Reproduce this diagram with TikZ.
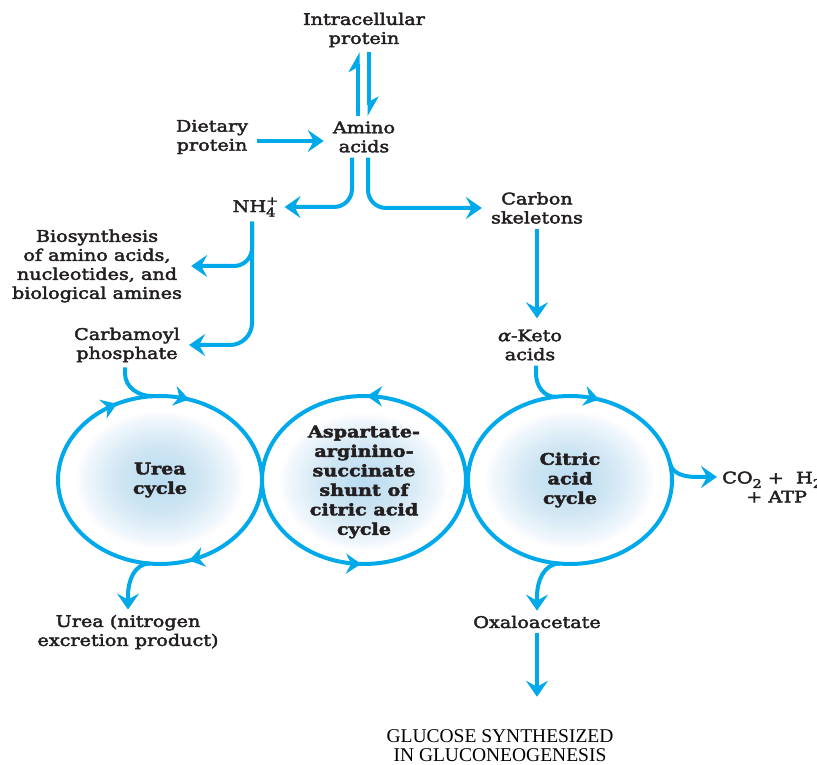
\documentclass[tikz,border=0pt]{standalone}
\usepackage{fontspec}
\setmainfont{DejaVu Serif}[FakeStretch=1.2, FakeBold=2.6]
\newfontfamily\timesfont{Liberation Serif}
\usetikzlibrary{arrows.meta,shapes.geometric,decorations.markings,backgrounds,calc}

\definecolor{flowblue}{RGB}{0,169,234}
\definecolor{glowblue}{RGB}{172,215,242}
\definecolor{inkdark}{RGB}{35,31,32}

% chemical sub- and superscripts
\newcommand{\chsub}[1]{\raisebox{-4.5pt}{\fontsize{12}{12}\selectfont #1}}
\newcommand{\chsup}[1]{\raisebox{7pt}{\fontsize{12}{12}\selectfont #1}}

\tikzset{
  lbl/.style={align=center, inner sep=5pt, text=inkdark,
    font=\fontsize{16}{19}\selectfont},
  cyclbl/.style={align=center, text=inkdark,
    font=\bfseries\fontsize{16}{19.5}\selectfont},
  bigtip/.tip={Stealth[length=16pt,width=22pt,inset=6pt]},
  cyctip/.tip={Stealth[length=15pt,width=20pt,inset=5pt]},
  flow/.style={draw=flowblue, line width=4pt, -bigtip},
  harp/.style={draw=flowblue, line width=4pt,
    -{Stealth[harpoon,length=17pt,width=19pt,inset=5pt]}},
  ring/.style={draw=flowblue, line width=4pt},
  cycnode/.style={ellipse, minimum width=204pt, minimum height=168pt,
    inner sep=0pt, outer sep=0pt},
}

\begin{document}
\begin{tikzpicture}[x=1pt,y=1pt]
\useasboundingbox (0,0) rectangle (817,765);

% text nodes
\node[lbl] (intra)  at (364,735) {Intracellular\\protein};
\node[lbl] (amino)  at (364,628) {Amino\\acids};
\node[lbl] (diet)   at (212,628) {Dietary\\protein};
\node[lbl] (nh4)    at (254,558) {NH\rlap{\chsup{+}}\chsub{4}};
\node[lbl] (carbon) at (537,557) {Carbon\\skeletons};
\node[lbl] (bio)    at (97,499)  {Biosynthesis\\of amino acids,\\nucleotides, and\\biological amines};
\node[lbl] (carb)   at (127,420) {Carbamoyl\\phosphate};
\node[lbl] (keto)   at (530,420) {{\itshape α}-Keto\\acids};
\node[lbl] (uprod)  at (128,133) {Urea (nitrogen\\excretion product)};
\node[lbl] (oxalo)  at (537,143) {Oxaloacetate};
\node[lbl, anchor=west, align=left] (co2) at (717,278)
  {CO\chsub{2} + \hspace{6pt}H\chsub{2}O\\\hspace{24pt}+ ATP};
\node[lbl, text=black, font=\timesfont\fontsize{19.5}{19}\selectfont]
  (gluc) at (500,19) {GLUCOSE SYNTHESIZED\\IN GLUCONEOGENESIS};

% the three cycles
\node[cycnode, cyclbl] (urea)   at (160,285) {Urea\\cycle};
\node[cycnode, cyclbl] (shunt)  at (364,283) {Aspartate-\\arginino-\\succinate\\shunt of\\citric acid\\cycle};
\node[cycnode, cyclbl] (citric) at (570,285) {Citric\\acid\\cycle};

% soft glow inside each cycle: stacked translucent ellipses
\begin{scope}[on background layer]
  \fill[white] (0,0) rectangle (817,765);
  \foreach \cyc in {urea,shunt,citric}{
    \foreach \k in {1,...,22}{
      \fill[glowblue, fill opacity=0.06]
        (\cyc.center) ellipse [x radius={3.8*\k pt}, y radius={3.1*\k pt}];
    }
  }
\end{scope}

% cycle rings with direction marks
\draw[ring, postaction={decorate}, decoration={markings,
    mark=at position 0.20 with {\arrowreversed{cyctip}},
    mark=at position 0.325 with {\arrowreversed{cyctip}},
    mark=at position 0.80 with {\arrowreversed{cyctip}}}]
  (urea.center) ellipse [x radius=102pt, y radius=84pt];
\draw[ring, postaction={decorate}, decoration={markings,
    mark=at position 0.245 with {\arrow{cyctip}},
    mark=at position 0.745 with {\arrow{cyctip}}}]
  (364,285) ellipse [x radius=102pt, y radius=84pt];
\draw[ring, postaction={decorate}, decoration={markings,
    mark=at position 0.20 with {\arrowreversed{cyctip}}}]
  (citric.center) ellipse [x radius=102pt, y radius=84pt];

% protein turnover
\draw[harp] ([xshift=-6pt]amino.north) -- ([xshift=-6pt]intra.south);
\draw[harp] ([xshift=5pt]intra.south) -- ([xshift=5pt]amino.north);
\draw[flow, shorten <=4pt, shorten >=4pt] ([yshift=-4pt]diet.east) -- ([yshift=-4pt]amino.west);

% amino acid breakdown
\draw[flow, rounded corners=18pt] ([xshift=-12pt]amino.south) |- ([xshift=4pt]nh4.east);
\draw[flow, rounded corners=18pt] ([xshift=4pt]amino.south) |- ([xshift=-4pt]carbon.west);
\draw[flow, rounded corners=18pt] ([xshift=-2pt]nh4.south) |- ([xshift=4pt]bio.east);
\draw[flow, rounded corners=22pt] ([xshift=-2pt]nh4.south) |- ([xshift=4pt]carb.east);
\draw[flow, shorten >=6pt] (carbon.south) -- (carbon.south |- keto.north);

% feeds into the cycles
\draw[ring] ([xshift=-2pt]carb.south) -- ++(0,-6) to[out=-90,in=180] (urea.95);
\draw[ring] ([xshift=6pt]keto.south) -- ++(0,-8) to[out=-90,in=180] (citric.100);

% products leaving the cycles
\draw[flow] (urea.-97) to[out=180,in=90] ([yshift=14pt]uprod.north) -- (uprod.north);
\draw[flow] (citric.-97) to[out=180,in=90] ([yshift=14pt]oxalo.north) -- (oxalo.north);
\draw[flow] (citric.10) to[out=-80,in=180] ([xshift=-20pt,yshift=10pt]co2.west) -- ([yshift=10pt]co2.west);
\draw[flow, shorten >=28pt] (oxalo.south) -- (oxalo.south |- gluc.north);
\end{tikzpicture}
\end{document}
